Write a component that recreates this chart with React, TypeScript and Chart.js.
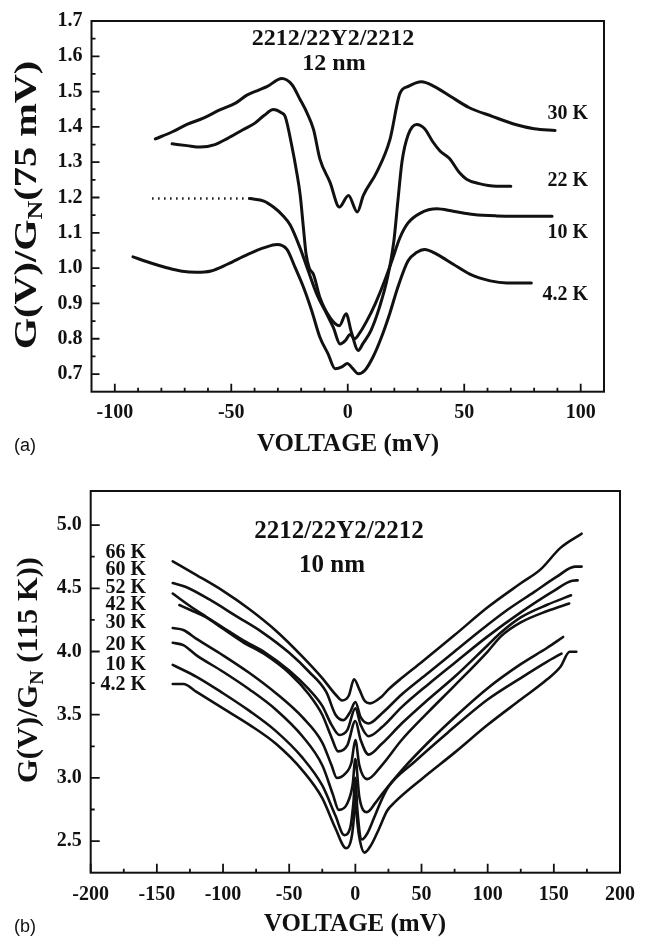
import React, { useEffect, useRef } from "react";
import { Chart, registerables } from "chart.js";

Chart.register(...registerables);

// ---------- Panel (a): 2212/22Y2/2212, 12 nm — G(V)/G_N(75 mV) ----------
const voltsA30 = [-82.6, -75, -69, -62, -54.7, -48, -43.3, -38, -34.7, -28.3, -24, -20.4, -17.5, -14.7, -11.9, -7.6, -3.6, 0.3, 4.1, 6.7, 12.4, 18.1, 22.4, 26, 31.7, 37, 44, 52, 62, 72, 80, 89];
const condA30 = [1.366, 1.387, 1.407, 1.425, 1.449, 1.468, 1.49, 1.505, 1.514, 1.537, 1.52, 1.477, 1.44, 1.393, 1.308, 1.243, 1.173, 1.206, 1.159, 1.206, 1.271, 1.364, 1.495, 1.515, 1.528, 1.515, 1.487, 1.455, 1.43, 1.407, 1.395, 1.39];

const voltsA22 = [-75.4, -69, -63.3, -57, -51.7, -45, -40, -35.8, -31.9, -28.5, -26.9, -24, -21.9, -20.4, -19, -17.9, -16.5, -14.7, -11.9, -7.6, -3.6, -0.7, 1.5, 4.5, 6.5, 10, 13.6, 17.1, 19.8, 21.5, 23.3, 25.9, 29.6, 33, 36.5, 39.6, 43.6, 48, 51, 56, 63.9, 70];
const condA22 = [1.352, 1.347, 1.343, 1.35, 1.367, 1.392, 1.41, 1.433, 1.449, 1.44, 1.43, 1.346, 1.271, 1.206, 1.112, 1.04, 1.0, 0.982, 0.916, 0.86, 0.837, 0.871, 0.82, 0.767, 0.786, 0.824, 0.889, 0.974, 1.077, 1.189, 1.302, 1.377, 1.407, 1.395, 1.358, 1.332, 1.311, 1.27, 1.252, 1.24, 1.232, 1.232];

// 10 K: dotted extrapolation on the negative-bias side, then the measured trace
const voltsA10Dotted = [-84, -41.9];
const condA10Dotted = [1.197, 1.197];
const voltsA10 = [-41.9, -36, -31.9, -28, -24.7, -20.4, -16.9, -13.3, -9, -6.2, -3.3, -1, 1, 3, 5, 8.3, 11.8, 15.3, 18.9, 22.4, 25.9, 31.2, 38.3, 45.3, 54.1, 63.9, 72, 80, 87.7];
const condA10 = [1.197, 1.19, 1.173, 1.15, 1.122, 1.056, 0.991, 0.926, 0.87, 0.832, 0.785, 0.795, 0.812, 0.8, 0.815, 0.852, 0.899, 0.955, 1.02, 1.086, 1.128, 1.156, 1.168, 1.161, 1.152, 1.148, 1.147, 1.147, 1.147];

const voltsA4 = [-92.2, -85.2, -78.1, -71.1, -65, -58.7, -51.7, -42.9, -35.8, -30.4, -26.1, -22.6, -19, -15.5, -12, -8.5, -5.4, -2.3, -0.2, 2.1, 4.5, 7.4, 10.9, 14.5, 18, 21.5, 25.9, 29.5, 33, 38.3, 45.3, 52.4, 61.2, 68.3, 78.8];
const condA4 = [1.032, 1.016, 1.002, 0.991, 0.988, 0.992, 1.011, 1.039, 1.058, 1.067, 1.053, 1.002, 0.946, 0.88, 0.805, 0.758, 0.715, 0.721, 0.73, 0.716, 0.701, 0.711, 0.749, 0.805, 0.871, 0.946, 1.021, 1.044, 1.053, 1.039, 1.011, 0.983, 0.964, 0.958, 0.958];

const labelsA = ["30 K", "22 K", "10 K", "4.2 K"];
const xMajorA = [-100, -50, 0, 50, 100];
const xMinorA = [-90, -80, -70, -60, -40, -30, -20, -10, 10, 20, 30, 40, 60, 70, 80, 90];
const yMajorA = [0.7, 0.8, 0.9, 1.0, 1.1, 1.2, 1.3, 1.4, 1.5, 1.6, 1.7];
const yMinorA = [0.75, 0.85, 0.95, 1.05, 1.15, 1.25, 1.35, 1.45, 1.55, 1.65];

// ---------- Panel (b): 2212/22Y2/2212, 10 nm — G(V)/G_N(115 K) ----------
const voltsB66 = [-138, -120, -100, -80, -60, -40, -25, -15, -10, -5, -1, 3, 7, 11, 20, 25, 35, 50, 75, 100, 125, 140, 155, 171];
const condB66 = [4.714, 4.605, 4.48, 4.335, 4.165, 3.96, 3.79, 3.66, 3.613, 3.65, 3.78, 3.7, 3.61, 3.59, 3.645, 3.7, 3.79, 3.915, 4.13, 4.35, 4.54, 4.65, 4.82, 4.932];

const voltsB60 = [-138, -128, -110, -90, -70, -50, -35, -22, -15, -9, -4, 0, 4, 10, 20, 35, 55, 75, 95, 115, 135, 152, 166, 171];
const condB60 = [4.542, 4.511, 4.41, 4.28, 4.15, 3.99, 3.84, 3.68, 3.5, 3.457, 3.52, 3.6, 3.48, 3.431, 3.51, 3.66, 3.83, 4.0, 4.17, 4.33, 4.47, 4.59, 4.672, 4.672];

const voltsB52 = [-138, -125, -113, -100, -85, -68, -50, -35, -25, -18, -12, -6, 0, 4, 10, 20, 35, 55, 75, 100, 125, 150, 164, 168];
const condB52 = [4.459, 4.36, 4.277, 4.19, 4.09, 3.99, 3.85, 3.7, 3.57, 3.42, 3.34, 3.38, 3.55, 3.42, 3.33, 3.4, 3.56, 3.74, 3.91, 4.12, 4.31, 4.48, 4.56, 4.563];

const voltsB42 = [-133, -125, -113, -100, -85, -68, -50, -35, -25, -18, -13, -6, 0, 4, 10, 20, 35, 55, 75, 100, 110, 125, 145, 163];
const condB42 = [4.368, 4.33, 4.272, 4.18, 4.075, 3.975, 3.83, 3.66, 3.5, 3.32, 3.21, 3.26, 3.45, 3.3, 3.184, 3.27, 3.43, 3.62, 3.8, 4.05, 4.15, 4.27, 4.37, 4.445];

const voltsB30 = [-138, -130, -120, -100, -80, -60, -40, -25, -18, -14, -8, -3, 0, 3, 9, 20, 35, 55, 75, 100, 110, 125, 145, 161.6];
const condB30 = [4.186, 4.17, 4.1, 3.97, 3.83, 3.67, 3.48, 3.28, 3.1, 3.0, 3.03, 3.12, 3.3, 3.1, 2.99, 3.1, 3.3, 3.52, 3.73, 4.0, 4.12, 4.23, 4.32, 4.38];

const voltsB20 = [-138, -130, -120, -100, -80, -60, -40, -25, -17, -12.5, -6, -2, 0, 3, 8.7, 15, 20, 35, 55, 75, 100, 125, 145, 157];
const condB20 = [4.069, 4.05, 3.97, 3.84, 3.7, 3.54, 3.33, 3.1, 2.87, 2.747, 2.8, 2.95, 3.15, 2.85, 2.729, 2.8, 2.87, 3.06, 3.28, 3.48, 3.71, 3.9, 4.03, 4.115];

const voltsB10 = [-138, -120, -100, -80, -60, -40, -25, -15, -8.4, -4, -1.5, 0, 1.5, 5, 9, 14, 20, 25, 45, 70, 100, 125, 145, 155.8];
const condB10 = [3.894, 3.8, 3.67, 3.53, 3.37, 3.16, 2.94, 2.7, 2.547, 2.6, 2.8, 3.0, 2.75, 2.513, 2.56, 2.68, 2.83, 2.93, 3.13, 3.36, 3.62, 3.79, 3.92, 3.984];

const voltsB4 = [-138, -130, -120, -100, -80, -60, -40, -25, -15, -6.9, -3, -1, 0, 1.5, 3.5, 6.9, 12, 18, 24, 30, 50, 75, 100, 125, 145, 155, 162, 167];
const condB4 = [3.743, 3.743, 3.68, 3.55, 3.42, 3.27, 3.06, 2.84, 2.6, 2.443, 2.52, 2.7, 2.88, 2.65, 2.5, 2.409, 2.47, 2.6, 2.74, 2.81, 2.99, 3.2, 3.42, 3.62, 3.78, 3.88, 3.998, 3.998];

const labelsB = ["66 K", "60 K", "52 K", "42 K", "30 K", "20 K", "10 K", "4.2 K"];
const xMajorB = [-200, -150, -100, -50, 0, 50, 100, 150, 200];
const xMinorB = [-175, -125, -75, -25, 25, 75, 125, 175];
const yMajorB = [2.5, 3.0, 3.5, 4.0, 4.5, 5.0];
const yMinorB = [2.75, 3.25, 3.75, 4.25, 4.75];

// ---------- drawing ----------
const INK = "#111111";
const SERIF = '"Liberation Serif", "Times New Roman", serif';
const W = 647;

type TextItem = { text: string; x: number; y: number; size: number; align: CanvasTextAlign; bold?: boolean; sans?: boolean };
type Series = { v: number[]; g: number[]; dash?: number[]; width?: number };
type PanelSpec = {
  height: number;
  area: { left: number; right: number; top: number; bottom: number };
  xRange: [number, number];
  yRange: [number, number];
  xMajor: number[];
  xMinor: number[];
  yMajor: number[];
  yMinor: number[];
  majorLen: number;
  minorLen: number;
  lineWidth: number;
  series: Series[];
  texts: TextItem[];
  yTitle: { main: string; sub: string; tail: string; cx: number; cy: number; size: number; stretch: number };
  tickSize: number;
  xPad: number;
  yPad: number;
};

function drawYTitle(ctx: CanvasRenderingContext2D, t: PanelSpec["yTitle"]) {
  ctx.save();
  ctx.translate(t.cx, t.cy);
  ctx.rotate(-Math.PI / 2);
  ctx.scale(t.stretch, 1);
  const big = `bold ${t.size}px ${SERIF}`;
  const small = `bold ${Math.round(t.size * 0.66)}px ${SERIF}`;
  ctx.font = big;
  const w1 = ctx.measureText(t.main).width;
  const w3 = ctx.measureText(t.tail).width;
  ctx.font = small;
  const w2 = ctx.measureText(t.sub).width;
  let x = -(w1 + w2 + w3) / 2;
  const base = t.size * 0.34;
  ctx.fillStyle = INK;
  ctx.textAlign = "left";
  ctx.textBaseline = "alphabetic";
  ctx.font = big;
  ctx.fillText(t.main, x, base);
  x += w1;
  ctx.font = small;
  ctx.fillText(t.sub, x, base + t.size * 0.2);
  x += w2;
  ctx.font = big;
  ctx.fillText(t.tail, x, base);
  ctx.restore();
}

function framePlugin(spec: PanelSpec) {
  return {
    id: "frameTicksText",
    afterDraw(chart: any) {
      const { ctx, chartArea: a, scales } = chart;
      const xs = scales.x;
      const ys = scales.y;
      ctx.save();
      ctx.strokeStyle = INK;
      ctx.lineWidth = 2;
      ctx.strokeRect(a.left, a.top, a.right - a.left, a.bottom - a.top);
      // inward tick marks on the bottom and left edges
      ctx.lineWidth = 1.8;
      ctx.beginPath();
      const xTick = (v: number, len: number) => {
        const p = xs.getPixelForValue(v);
        ctx.moveTo(p, a.bottom);
        ctx.lineTo(p, a.bottom - len);
      };
      const yTick = (v: number, len: number) => {
        const p = ys.getPixelForValue(v);
        ctx.moveTo(a.left, p);
        ctx.lineTo(a.left + len, p);
      };
      spec.xMajor.forEach((v) => xTick(v, spec.majorLen));
      spec.xMinor.forEach((v) => xTick(v, spec.minorLen));
      spec.yMajor.forEach((v) => yTick(v, spec.majorLen));
      spec.yMinor.forEach((v) => yTick(v, spec.minorLen));
      ctx.stroke();
      // annotations
      ctx.fillStyle = INK;
      ctx.textBaseline = "middle";
      spec.texts.forEach((t) => {
        const fam = t.sans ? '"Liberation Sans", Arial, sans-serif' : SERIF;
        ctx.font = `${t.bold === false ? "" : "bold "}${t.size}px ${fam}`;
        ctx.textAlign = t.align;
        ctx.fillText(t.text, t.x, t.y);
      });
      drawYTitle(ctx, spec.yTitle);
      ctx.restore();
    },
  };
}

function buildConfig(spec: PanelSpec): any {
  const tickFont = { family: SERIF, size: spec.tickSize, weight: "bold" as const };
  return {
    type: "scatter",
    data: {
      datasets: spec.series.map((s) => ({
        data: s.v.map((x, i) => ({ x, y: s.g[i] })),
        showLine: true,
        borderColor: INK,
        borderWidth: s.width ?? spec.lineWidth,
        borderDash: s.dash ?? [],
        borderCapStyle: s.dash ? "butt" : "round",
        borderJoinStyle: "round",
        pointRadius: 0,
        fill: false,
        cubicInterpolationMode: "monotone",
      })),
    },
    options: {
      responsive: false,
      animation: false,
      devicePixelRatio: 1,
      events: [],
      layout: { padding: { left: 0, top: spec.area.top, right: W - spec.area.right, bottom: 0 } },
      plugins: { legend: { display: false }, tooltip: { enabled: false } },
      scales: {
        x: {
          type: "linear",
          min: spec.xRange[0],
          max: spec.xRange[1],
          grid: { display: false, drawTicks: false },
          border: { display: false },
          afterBuildTicks: (sc: any) => {
            sc.ticks = spec.xMajor.map((value) => ({ value }));
          },
          afterFit: (sc: any) => {
            sc.height = spec.height - spec.area.bottom;
          },
          ticks: {
            font: tickFont,
            color: INK,
            padding: spec.xPad,
            maxRotation: 0,
            autoSkip: false,
            callback: (v: number) => String(v),
          },
        },
        y: {
          type: "linear",
          min: spec.yRange[0],
          max: spec.yRange[1],
          grid: { display: false, drawTicks: false },
          border: { display: false },
          afterBuildTicks: (sc: any) => {
            sc.ticks = spec.yMajor.map((value) => ({ value }));
          },
          afterFit: (sc: any) => {
            sc.width = spec.area.left;
          },
          ticks: {
            font: tickFont,
            color: INK,
            padding: spec.yPad,
            autoSkip: false,
            callback: (v: number) => Number(v).toFixed(1),
          },
        },
      },
    },
    plugins: [framePlugin(spec)],
  };
}

const panelA: PanelSpec = {
  height: 470,
  area: { left: 91.5, right: 604, top: 17, bottom: 391.7 },
  xRange: [-110, 110],
  yRange: [0.65, 1.7],
  xMajor: xMajorA,
  xMinor: xMinorA,
  yMajor: yMajorA,
  yMinor: yMinorA,
  majorLen: 8,
  minorLen: 4,
  lineWidth: 3,
  tickSize: 20,
  xPad: 9,
  yPad: 9,
  series: [
    { v: voltsA30, g: condA30 },
    { v: voltsA22, g: condA22 },
    { v: voltsA10Dotted, g: condA10Dotted, dash: [1.5, 4.5], width: 2.5 },
    { v: voltsA10, g: condA10 },
    { v: voltsA4, g: condA4 },
  ],
  texts: [
    { text: "2212/22Y2/2212", x: 333, y: 38.5, size: 24, align: "center" },
    { text: "12 nm", x: 334, y: 64, size: 24, align: "center" },
    { text: labelsA[0], x: 588, y: 114, size: 20, align: "right" },
    { text: labelsA[1], x: 588, y: 181, size: 20, align: "right" },
    { text: labelsA[2], x: 588, y: 233, size: 20, align: "right" },
    { text: labelsA[3], x: 588, y: 295, size: 20, align: "right" },
    { text: "VOLTAGE (mV)", x: 348, y: 445, size: 25, align: "center" },
    { text: "(a)", x: 14, y: 446, size: 18, align: "left", bold: false, sans: true },
  ],
  yTitle: { main: "G(V)/G", sub: "N", tail: "(75 mV)", cx: 25, cy: 205, size: 31, stretch: 1.3 },
};

const panelB: PanelSpec = {
  height: 473,
  area: { left: 90.7, right: 620, top: 16, bottom: 402.7 },
  xRange: [-200, 200],
  yRange: [2.25, 5.27],
  xMajor: xMajorB,
  xMinor: xMinorB,
  yMajor: yMajorB,
  yMinor: yMinorB,
  majorLen: 9,
  minorLen: 4,
  lineWidth: 2.6,
  tickSize: 20,
  xPad: 10,
  yPad: 9,
  series: [
    { v: voltsB66, g: condB66 },
    { v: voltsB60, g: condB60 },
    { v: voltsB52, g: condB52 },
    { v: voltsB42, g: condB42 },
    { v: voltsB30, g: condB30 },
    { v: voltsB20, g: condB20 },
    { v: voltsB10, g: condB10 },
    { v: voltsB4, g: condB4 },
  ],
  texts: [
    { text: "2212/22Y2/2212", x: 339, y: 61.5, size: 25, align: "center" },
    { text: "10 nm", x: 332, y: 96, size: 25, align: "center" },
    ...labelsB.map((t, i) => ({ text: t, x: 146, y: [83.3, 100, 118.3, 135, 153.3, 175, 195, 215][i], size: 20, align: "right" as CanvasTextAlign })),
    { text: "VOLTAGE (mV)", x: 355, y: 455, size: 25, align: "center" },
    { text: "(b)", x: 14, y: 457, size: 18, align: "left", bold: false, sans: true },
  ],
  yTitle: { main: "G(V)/G", sub: "N", tail: " (115 K))", cx: 27, cy: 200, size: 29, stretch: 1.05 },
};

function Panel({ spec, top }: { spec: PanelSpec; top: number }) {
  const ref = useRef<HTMLCanvasElement | null>(null);
  useEffect(() => {
    if (!ref.current) return;
    const chart = new Chart(ref.current, buildConfig(spec));
    return () => chart.destroy();
  }, [spec]);
  return (
    <canvas
      ref={ref}
      width={W}
      height={spec.height}
      style={{ position: "absolute", left: 0, top, width: W, height: spec.height, display: "block" }}
    />
  );
}

export default function App() {
  return (
    <div style={{ position: "absolute", left: 0, top: 0, width: W, height: 943, background: "#ffffff" }}>
      <Panel spec={panelA} top={0} />
      <Panel spec={panelB} top={470} />
    </div>
  );
}
